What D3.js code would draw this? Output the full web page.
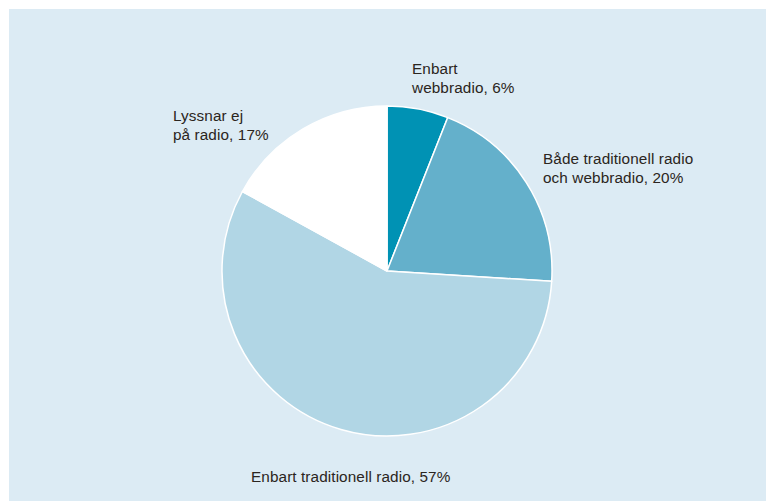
<!DOCTYPE html>
<html><head><meta charset="utf-8">
<script src="https://cdn.jsdelivr.net/npm/d3@7"></script>
<style>html,body{margin:0;padding:0;background:#fff;}svg{display:block;}</style>
</head><body>
<svg id="chart" width="766" height="501"></svg>
<script>
const categories = ["Enbart webbradio", "Både traditionell radio och webbradio", "Enbart traditionell radio", "Lyssnar ej på radio"];
const values = [6, 20, 57, 17];
const labelLines = [
  ["Enbart", "webbradio, 6%"],
  ["Både traditionell radio", "och webbradio, 20%"],
  ["Enbart traditionell radio, 57%"],
  ["Lyssnar ej", "på radio, 17%"]
];
const colors = ["#0092b4", "#64b0cb", "#b1d6e5", "#ffffff"];

const svg = d3.select("#chart");
svg.append("rect").attr("x", 9).attr("y", 9).attr("width", 757).attr("height", 492).attr("fill", "#dcebf4");

const cx = 387, cy = 271, r = 165;
const pie = d3.pie().sort(null).value(d => d)(values);
const arc = d3.arc().innerRadius(0).outerRadius(r);
const g = svg.append("g").attr("transform", `translate(${cx},${cy})`);
g.selectAll("path").data(pie).join("path")
  .attr("d", arc)
  .attr("fill", (d, i) => colors[i])
  .attr("stroke", "#ffffff").attr("stroke-width", 1.5).attr("stroke-linejoin", "round");

const labelPos = [[412, 74], [543, 164], [251, 482], [173, 121]];
const lh = 19;
labelLines.forEach((lines, i) => {
  const t = svg.append("text")
    .attr("x", labelPos[i][0]).attr("y", labelPos[i][1])
    .attr("font-family", "Liberation Sans, Arial, Helvetica, sans-serif")
    .attr("font-size", 15.3).attr("letter-spacing", 0.1).attr("fill", "#2b2520");
  lines.forEach((s, j) => {
    t.append("tspan").attr("x", labelPos[i][0]).attr("y", labelPos[i][1] + j * lh).text(s);
  });
});
</script>
</body></html>
